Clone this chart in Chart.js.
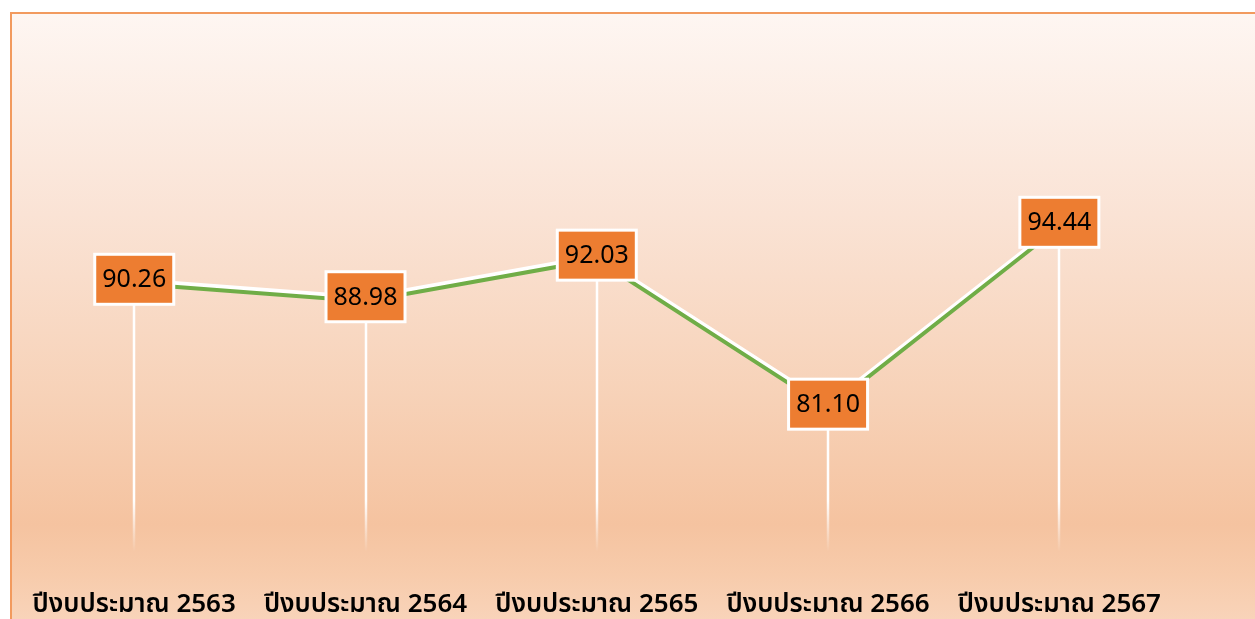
<!DOCTYPE html>
<html>
<head>
<meta charset="utf-8">
<script src="https://cdn.jsdelivr.net/npm/chart.js@4.4.1/dist/chart.umd.min.js"></script>
<style>
  html, body { margin: 0; padding: 0; background: #fff; }
  #frame {
    position: absolute; left: 10px; top: 12px; width: 1260px; height: 620px;
    border-left: 2px solid #f29a5e; border-top: 2px solid #f29a5e;
    background: linear-gradient(to bottom, #fef6f2 0px, #fae3d5 200px, #f7d2b8 380px, #f5c3a0 510px, #f7cbab 560px, #f9d6be 620px);
  }
  #wrap { position: absolute; left: 0; top: 0; width: 1255px; height: 619px; }
</style>
</head>
<body>
<div id="frame"></div>
<div id="wrap"><canvas id="chart"></canvas></div>
<script>
const years = ["ปีงบประมาณ 2563", "ปีงบประมาณ 2564", "ปีงบประมาณ 2565", "ปีงบประมาณ 2566", "ปีงบประมาณ 2567"];
const scores = [90.26, 88.98, 92.03, 81.10, 94.44];

// white drop lines from each point down to the bottom of the plot, fading out
const dropLines = {
  id: "dropLines",
  beforeDatasetsDraw(chart) {
    const { ctx, chartArea } = chart;
    const meta = chart.getDatasetMeta(1);
    ctx.save();
    const g = ctx.createLinearGradient(0, chartArea.bottom - 60, 0, chartArea.bottom - 8);
    g.addColorStop(0, "rgba(255,255,255,1)");
    g.addColorStop(1, "rgba(255,255,255,0)");
    ctx.strokeStyle = g;
    ctx.lineWidth = 2.5;
    meta.data.forEach((pt) => {
      ctx.beginPath();
      ctx.moveTo(Math.round(pt.x), pt.y);
      ctx.lineTo(Math.round(pt.x), chartArea.bottom);
      ctx.stroke();
    });
    ctx.restore();
  },
  // shift the white "shadow" line upwards
  beforeDatasetDraw(chart, args) {
    if (args.index === 0) {
      chart.ctx.save();
      chart.ctx.translate(0, -3);
    }
  },
  afterDatasetDraw(chart, args) {
    if (args.index === 0) chart.ctx.restore();
  },
};

// value boxes: orange fill with white frame
const valueBoxes = {
  id: "valueBoxes",
  afterDatasetsDraw(chart) {
    const { ctx } = chart;
    const meta = chart.getDatasetMeta(1);
    ctx.save();
    ctx.font = '25px "Noto Sans", sans-serif';
    ctx.textAlign = "center";
    ctx.textBaseline = "middle";
    meta.data.forEach((pt, i) => {
      const cx = pt.x, cy = pt.y - 4.5;
      const w = 82, h = 53;
      ctx.fillStyle = "#ffffff";
      ctx.fillRect(cx - w / 2, cy - h / 2, w, h);
      ctx.fillStyle = "#ed7d31";
      ctx.fillRect(cx - w / 2 + 3, cy - h / 2 + 3, w - 6, h - 6);
      ctx.fillStyle = "#000000";
      ctx.fillText(scores[i].toFixed(2), cx, cy + 1);
    });
    ctx.restore();
  },
};

new Chart(document.getElementById("chart"), {
  type: "line",
  data: {
    labels: years,
    datasets: [
      {
        data: scores,
        borderColor: "#ffffff",
        borderWidth: 5.5,
        pointRadius: 0,
        tension: 0,
        order: 2,
      },
      {
        data: scores,
        borderColor: "#70ad47",
        borderWidth: 4,
        pointRadius: 0,
        tension: 0,
        order: 1,
      },
    ],
  },
  options: {
    responsive: true,
    maintainAspectRatio: false,
    animation: false,
    layout: { padding: { top: 151, left: 16, right: 80, bottom: 3 } },
    plugins: { legend: { display: false }, tooltip: { enabled: false } },
    scales: {
      x: {
        offset: true,
        grid: { display: false, drawTicks: false },
        border: { display: false },
        afterFit(scale) { scale.height = 56; },
        ticks: {
          padding: 31,
          color: "#000000",
          maxRotation: 0,
          autoSkip: false,
          font: { family: '"Noto Sans Thai", "Noto Sans", sans-serif', size: 26, weight: "600" },
        },
      },
      y: { display: false, min: 70, max: 100 },
    },
  },
  plugins: [dropLines, valueBoxes],
});
</script>
</body>
</html>
